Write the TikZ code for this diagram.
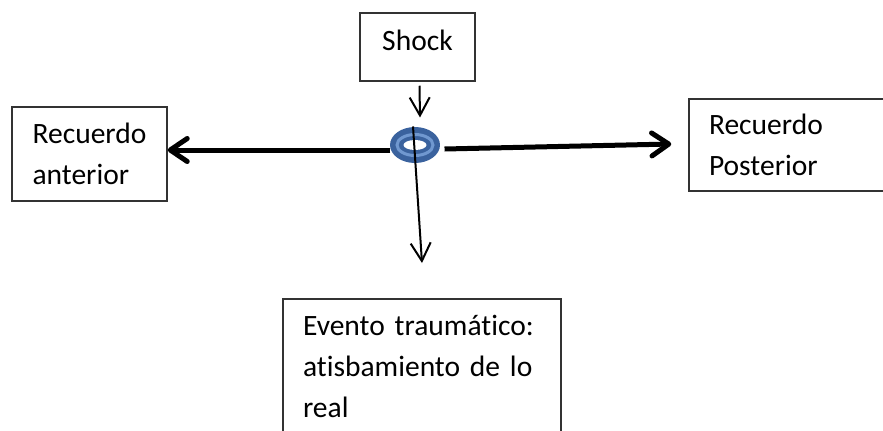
\documentclass[tikz,border=0pt]{standalone}
\usepackage{fontspec}
\setmainfont{Carlito}[Ligatures=NoCommon]
\usepackage{tikz}
\usetikzlibrary{calc,shapes.geometric,arrows.meta}
\definecolor{ringblue}{RGB}{58,98,158}
\definecolor{ringlight}{RGB}{112,152,208}
\begin{document}
\begin{tikzpicture}[x=0.02cm,y=-0.02cm,semithick]
\tikzstyle{box node}=[rectangle,draw=black!80,line width=0.03cm,font=\fontsize{16.8}{23.3}\selectfont,align=left]
\tikzstyle{ring node}=[ellipse,fill=ringblue,minimum width=1cm,minimum height=0.72cm,inner sep=0]

\tikzset{
	thick arrow/.style={-{Straight Barb[round,length=0.34cm,width=0.46cm]},line width=0.1cm},
	thin arrow/.style={-{Straight Barb[length=0.36cm,width=0.4cm]},line width=0.04cm}
}
      \useasboundingbox (0,0) rectangle (883,430);

      \node[box node,minimum width=2.3cm,minimum height=1.36cm,text depth=0.26cm,align=center] (shock) at (417.5,47) {Shock};
      \node[box node,minimum width=3.1cm,minimum height=1.88cm] (anterior) at (89.5,154) {Recuerdo\\anterior};
      \node[box node,text width=3.62cm,inner xsep=0.4cm,minimum height=1.84cm] (posterior) at (799.5,145) {Recuerdo\\Posterior};
      \node[box node,text width=4.76cm,inner xsep=0.4cm,minimum height=2.7cm,anchor=north] (evento) at (422,298) {Evento traumático:\\atisbamiento de lo\\real};
      \node[ring node] (ring) at (415,145) {};
      \fill[white] (ring.center) ellipse [x radius=0.23cm,y radius=0.1cm];
      \draw[ringlight,line width=0.06cm] (ring.center) ellipse [x radius=0.36cm,y radius=0.21cm];

    \path[thick arrow] ($(ring.west)+(1,5)$) edge ($(anterior.east)+(0,-4)$);
    \path[thick arrow] ($(ring.east)+(4,4)$) edge ($(posterior.west)+(-17,-1)$);
    \path[thin arrow] ($(shock.south)+(2,4)$) edge ($(ring.north)+(5,-9)$);
    \path[thin arrow] ($(ring.north)+(-2,0)$) edge ($(evento.north)+(0,-35)$);
\end{tikzpicture}
\end{document}
